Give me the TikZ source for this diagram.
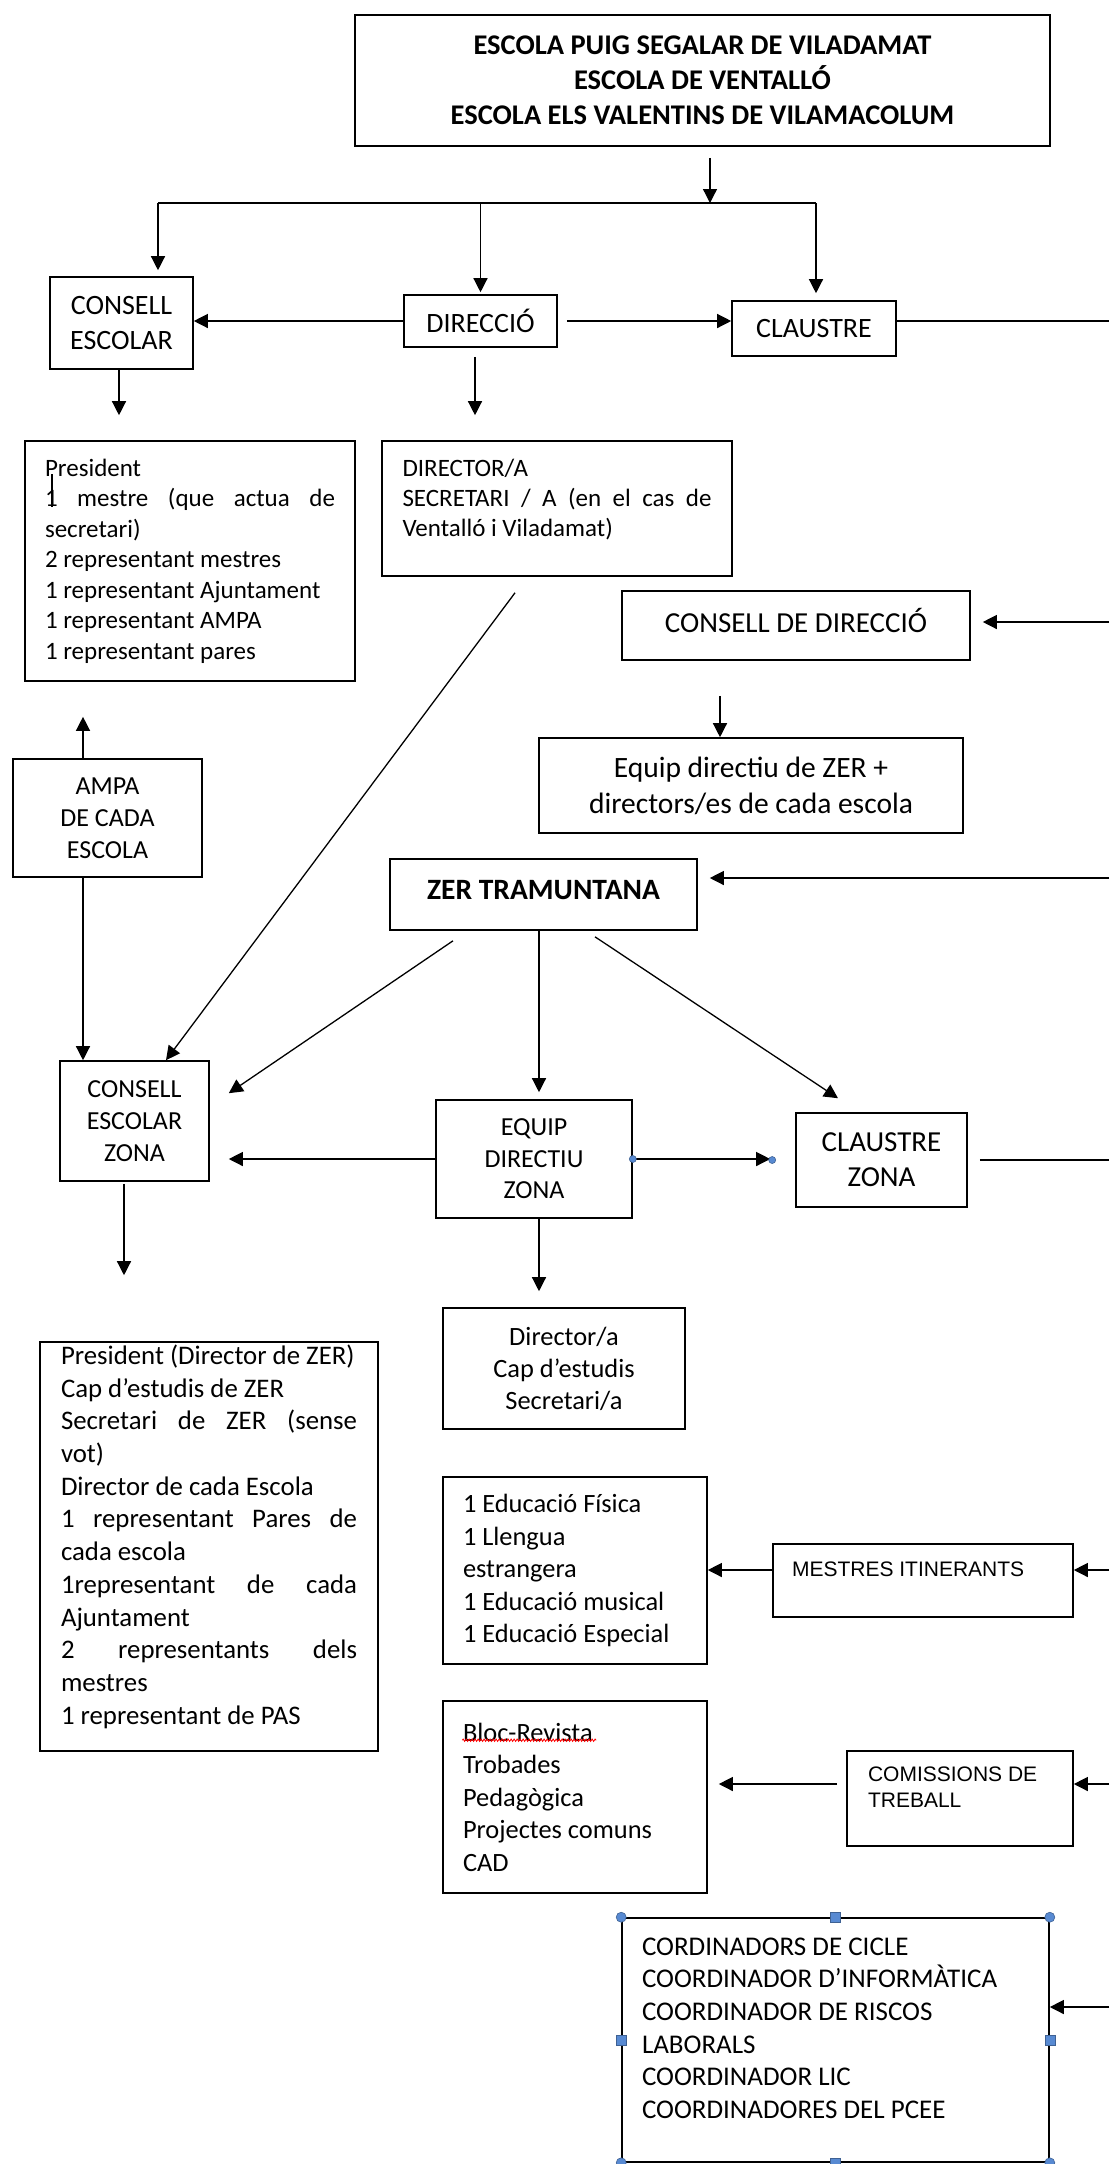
\documentclass[tikz,border=0pt]{standalone}
\usepackage{fontspec}
\setmainfont{Carlito}
\newfontfamily\arialfont{Liberation Sans}
\usetikzlibrary{arrows.meta,decorations.pathmorphing}

\definecolor{handleblue}{RGB}{88,138,210}
\newcommand{\justline}[1]{\makebox[\linewidth][s]{#1}}
\newcommand{\bottomgap}[1]{\rule[-#1]{0pt}{#1}}

\begin{document}
\begin{tikzpicture}
	[x=1pt, y=-1pt,
		containsText/.style ={font=\fontsize{26}{32}\selectfont
									},
		bigText/.style		={font=\fontsize{28}{35}\selectfont
									},
		arial/.style		={font=\arialfont\fontsize{21}{26}\selectfont
									},
		block/.style		={rectangle
									, containsText
									, draw
									, line width=1.6pt
									, inner sep=0pt
									, align=center
									},
		list/.style			={block
									, align=flush left
									, execute at begin node={\spaceskip=0pt\xspaceskip=0pt}
									},
		line/.style		 	={draw
									, line width=1.3pt
									, -{Triangle[width=14pt,length=14pt]}
									},
		plain/.style		={draw
									, line width=1.3pt
									},
		handle/.style		={fill=handleblue
									, draw=handleblue!70!black
									, line width=0.6pt
									}
	]
\useasboundingbox (0,0) rectangle (1109,2164);
\clip (0,0) rectangle (1109,2164);

	% row 1
	\node [block, font=\bfseries\fontsize{28.5}{35}\selectfont, minimum width=695pt, minimum height=131pt] (schools) at (702.5,80.5)
		{ESCOLA PUIG SEGALAR DE VILADAMAT\\ESCOLA DE VENTALLÓ\\ESCOLA ELS VALENTINS DE VILAMACOLUM};

	% row 2
	\node [block, bigText, minimum width=143pt, minimum height=92pt] (council)	at (121.5,323)	{CONSELL\\ESCOLAR};
	\node [block, bigText, minimum width=153pt, minimum height=52pt] (management)	at (480.5,321)	{DIRECCIÓ};
	\node [block, bigText, minimum width=164pt, minimum height=55pt] (staff)	at (814,328.5)	{CLAUSTRE};

	% row 3
	\node [list, font=\fontsize{25}{30.5}\selectfont, text width=290pt, minimum width=330pt, minimum height=240pt] (council members) at (190,561)
		{President\\\justline{1 mestre (que actua de}\\secretari)\\2 representant mestres\\1 representant Ajuntament\\1 representant AMPA\\1 representant pares};
	\node [list, font=\fontsize{25}{30}\selectfont, text width=309pt, minimum width=350pt, minimum height=135pt] (management members) at (557,508.5)
		{DIRECTOR/A\\\justline{SECRETARI / A (en el cas de}\\Ventalló i Viladamat)\bottomgap{22pt}};
	\node [block, font=\fontsize{29}{35}\selectfont, minimum width=348pt, minimum height=69pt] (direction board) at (796,625.5)	{CONSELL DE DIRECCIÓ\bottomgap{10pt}};

	% row 4
	\node [block, font=\fontsize{29.5}{36}\selectfont, minimum width=424pt, minimum height=95pt] (direction team) at (751,785.5)
		{Equip directiu de ZER +\\directors/es de cada escola};
	\node [block, minimum width=189pt, minimum height=118pt] (parents) at (107.5,818)	{AMPA\\DE CADA\\ESCOLA};
	\node [block, font=\bfseries\fontsize{29.5}{35}\selectfont, minimum width=307pt, minimum height=71pt] (zer) at (543.5,894.5)	{ZER TRAMUNTANA\bottomgap{9pt}};

	% row 5
	\node [block, minimum width=149pt, minimum height=120pt] (zone council)	at (134.5,1121)	{CONSELL\\ESCOLAR\\ZONA};
	\node [block, font=\fontsize{26}{31.5}\selectfont, minimum width=196pt, minimum height=118pt] (zone team) at (534,1159)	{EQUIP\\DIRECTIU\\ZONA};
	\node [block, font=\fontsize{29}{35}\selectfont, minimum width=171pt, minimum height=94pt] (zone staff)	at (881.5,1160)	{CLAUSTRE\\ZONA};

	% row 6
	\node [block, font=\fontsize{26.4}{32}\selectfont, minimum width=242pt, minimum height=121pt] (zone team members) at (564,1368.5)	{Director/a\\Cap d’estudis\\Secretari/a};
	\node [list, font=\fontsize{26.8}{32.7}\selectfont, text width=296pt, minimum width=338pt, minimum height=409pt] (zone council members) at (209,1546.5)
		{President (Director de ZER)\\Cap d’estudis de ZER\\\justline{Secretari de ZER (sense}\\vot)\\Director de cada Escola\\\justline{1 representant Pares de}\\cada escola\\\justline{1representant de cada}\\Ajuntament\\\justline{2 representants dels}\\mestres\\1 representant de PAS\bottomgap{24pt}};

	% row 7
	\node [list, font=\fontsize{26.4}{32.5}\selectfont, text width=224pt, minimum width=264pt, minimum height=187pt] (itinerant subjects) at (575,1570.5)
		{1 Educació Física\\1 Llengua\\estrangera\\1 Educació musical\\1 Educació Especial};
	\node [list, arial, text width=262pt, minimum width=300pt, minimum height=73pt] (itinerant) at (923,1580.5)	{MESTRES ITINERANTS\bottomgap{23pt}};

	% row 8
	\node [list, font=\fontsize{26.4}{32.5}\selectfont, text width=224pt, minimum width=264pt, minimum height=192pt] (projects) at (575,1797)
		{Bloc-Revista\\Trobades\\Pedagògica\\Projectes comuns\\CAD};
	\node [list, arial, text width=184pt, minimum width=226pt, minimum height=95pt] (commissions) at (960,1798.5)	{COMISSIONS DE\\TREBALL\bottomgap{23pt}};

	% row 9
	\node [list, font=\fontsize{27}{32.7}\selectfont, text width=387pt, minimum width=427pt, minimum height=244pt] (coordinators) at (835.5,2040)
		{CORDINADORS DE CICLE\\COORDINADOR D’INFORMÀTICA\\COORDINADOR DE RISCOS\\LABORALS\\COORDINADOR LIC\\COORDINADORES DEL PCEE\bottomgap{24pt}};

\coordinate (bus)				at (710,203);
\coordinate (bus left)		at (158,203);
\coordinate (bus right)	at (816,203);
\coordinate (rim)				at (1109,0);

\begin{scope}[every path/.style=line]
	\path	[shorten <=11pt]	(schools.south -| bus)	-- (bus);
	\path	[shorten >=6pt]	(bus left)	-- (bus left |- council.north);
	\path	[shorten >=2pt]	(bus -| management.north)	-- (management.north);
	\path	[shorten >=7pt]	(bus right)	-- (bus right |- staff.north);
	\path						(management.west)	-- (management.west -| council.east);
	\path	[shorten <=9pt]	(management.east)	-- (management.east -| staff.west);
	\path	[shorten >=25pt]	([xshift=-2.5pt]council.south)	-- ([xshift=-2.5pt]council.south |- council members.north);
	\path	[shorten <=9pt, shorten >=25pt]	([xshift=-5.5pt]management.south)	-- ([xshift=-5.5pt]management.south |- management members.north);
	\path						([xshift=-42pt,yshift=-16pt]management members.south)	-- ([xshift=31.5pt]zone council.north);
	\path	[shorten >=12pt]	([yshift=3.5pt]rim |- direction board.east)	-- ([yshift=3.5pt]direction board.east);
	\path	[shorten <=35pt]	([xshift=-76pt]direction board.south)	-- ([xshift=-31pt]direction team.north);
	\path	[shorten >=35pt]	([xshift=-24.5pt]parents.north)	-- ([xshift=-24.5pt]parents.north |- council members.south);
	\path						([xshift=-24.5pt]parents.south)	-- ([xshift=-24.5pt]parents.south |- zone council.north);
	\path	[shorten >=12pt]	([yshift=16.5pt]rim |- zer.east)	-- ([yshift=16.5pt]zer.east);
	\path						([xshift=-90.5pt,yshift=-10pt]zer.south)	-- ([xshift=19pt,yshift=-33pt]zone council.north east);
	\path	[shorten >=7pt]	([xshift=-4.5pt]zer.south)	-- ([xshift=-4.5pt]zer.south |- zone team.north);
	\path						([xshift=51.5pt,yshift=-6pt]zer.south)	-- ([xshift=-43.5pt,yshift=14pt]zone staff.north);
	\path	[shorten >=19pt]	(zone team.west)	-- (zone team.west -| zone council.east);
	\path	[shorten >=25pt]	(zone team.east)	-- (zone team.east -| zone staff.west);
	\path	[shorten <=2pt, shorten >=66pt]	([xshift=-10.5pt]zone council.south)	-- ([xshift=-10.5pt]zone council.south |- zone council members.north);
	\path	[shorten >=16pt]	([xshift=5pt]zone team.south)	-- ([xshift=5pt]zone team.south |- zone team members.north);
	\path						([yshift=10.5pt]itinerant.west)	-- ([yshift=10.5pt]itinerant.west -| itinerant subjects.east);
	\path						([yshift=10.5pt]rim |- itinerant.east)	-- ([yshift=10.5pt]itinerant.east);
	\path	[shorten <=9pt, shorten >=11pt]	([yshift=14.5pt]commissions.west)	-- ([yshift=14.5pt]commissions.west -| projects.east);
	\path						([yshift=14.5pt]rim |- commissions.east)	-- ([yshift=14.5pt]commissions.east);
	\path						([yshift=33pt]rim |- coordinators.east)	-- ([yshift=33pt]coordinators.east);
\end{scope}

\path [plain]	(bus left)	-- (bus right);
\path [plain]	([yshift=7.5pt]staff.east)	-- ([yshift=7.5pt]rim |- staff.east);
\path [plain]	([xshift=12pt]zone staff.east)	-- (rim |- zone staff.east);

% selection marks
\foreach \corner in {north west, north east, south west, south east}
	\filldraw [handle] (coordinators.\corner) circle (5pt);
\foreach \side in {north, south, west, east}
	\filldraw [handle] ([shift={(-5pt,-5pt)}]coordinators.\side) rectangle ++(10pt,10pt);
\filldraw [handle] (zone team.east) circle (3.5pt);
\filldraw [handle] ([xshift=-23pt]zone staff.west) circle (3.5pt);
\draw [red, line width=0.8pt, decorate, decoration={snake, amplitude=1.2pt, segment length=3pt}]
	([xshift=20pt,yshift=-40pt]projects.north west) -- ++(134,0);
\draw [line width=2pt] ([xshift=28pt,yshift=-34pt]council members.north west) -- ++(0,33);
\end{tikzpicture}
\end{document}
